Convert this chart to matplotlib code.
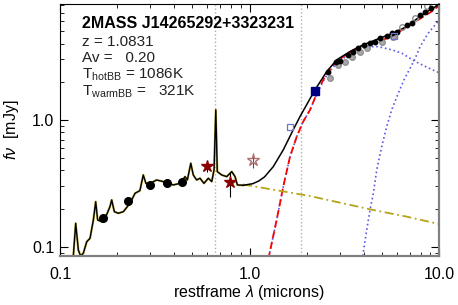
import matplotlib.pyplot as plt
import numpy as np
from matplotlib.ticker import NullFormatter

plt.rcParams['font.family'] = ['Liberation Sans', 'DejaVu Sans']
plt.rcParams['mathtext.fontset'] = 'custom'
plt.rcParams['mathtext.rm'] = 'Liberation Sans'
plt.rcParams['mathtext.it'] = 'Liberation Sans:italic'

# observed-frame template spectrum (UV/optical part)
spec_wave = [0.1175, 0.121, 0.125, 0.1285, 0.1327, 0.1384, 0.144, 0.150, 0.1543, 0.158,
             0.166, 0.176, 0.1835, 0.1874, 0.1935, 0.203, 0.216, 0.234, 0.249, 0.264,
             0.275, 0.284, 0.2985, 0.3236, 0.351, 0.396, 0.430, 0.457, 0.470, 0.490,
             0.505, 0.526, 0.548, 0.575, 0.6065, 0.632, 0.650, 0.664, 0.676, 0.713,
             0.758, 0.806, 0.839, 0.863, 0.927]
spec_flux = [0.0834, 0.153, 0.094, 0.0845, 0.0887, 0.1095, 0.1165, 0.1625, 0.2265, 0.1625,
             0.1575, 0.178, 0.207, 0.234, 0.189, 0.1835, 0.189, 0.220, 0.264, 0.2767,
             0.368, 0.316, 0.316, 0.336, 0.326, 0.307, 0.316, 0.357, 0.336, 0.455,
             0.368, 0.336, 0.3467, 0.316, 0.3467, 0.326, 0.403, 1.20, 0.391, 0.368,
             0.357, 0.391, 0.357, 0.307, 0.305]

# total model beyond the spectrum
model_wave = [0.927, 1.04, 1.12, 1.20, 1.335, 1.507, 1.70, 1.847, 2.216, 2.556, 2.884, 3.39,
              3.99, 4.885, 5.74, 6.755, 7.94, 8.965, 10.0]
model_flux = [0.305, 0.314, 0.330, 0.355, 0.428, 0.58, 0.834, 1.062, 1.725, 2.405, 2.976, 3.46,
              3.908, 4.415, 4.83, 5.45, 6.54, 7.38, 8.09]

# template extension (dash-dot)
ext_wave = [0.924, 0.994, 2.086, 3.003, 4.485, 6.776, 10.0]
ext_flux = [0.3097, 0.304, 0.251, 0.2225, 0.195, 0.1725, 0.151]

# hot + warm blackbody sum (red dashed)
bbsum_wave = [1.222, 1.267, 1.391, 1.507, 1.636, 1.775, 1.916, 2.086, 2.307, 2.502, 2.768,
              3.126, 3.68, 4.236, 4.784, 5.627, 6.616, 7.78, 9.15, 10.0]
bbsum_flux = [0.0655, 0.0845, 0.1625, 0.2976, 0.513, 0.738, 0.964, 1.199, 1.725, 2.197, 2.718,
              3.16, 3.68, 4.03, 4.15, 4.545, 5.295, 6.155, 7.16, 7.94]

# hot blackbody
hot_wave = [1.222, 1.267, 1.391, 1.507, 1.636, 1.775, 1.916, 2.086, 2.307, 2.502, 2.768,
            3.126, 3.68, 4.221, 4.765, 5.649, 6.378, 7.47, 8.44, 9.88]
hot_flux = [0.0655, 0.0845, 0.1625, 0.2976, 0.513, 0.738, 0.964, 1.199, 1.693, 2.145, 2.62,
            3.058, 3.568, 3.77, 3.783, 3.568, 3.35, 2.895, 2.645, 2.371]

# warm blackbody
warm_wave = [3.958, 4.155, 4.324, 4.503, 4.692, 4.985, 5.297, 5.627, 6.098, 6.536, 7.03,
             7.47, 7.94, 8.78, 9.72, 10.0]
warm_flux = [0.0845, 0.1355, 0.195, 0.264, 0.403, 0.616, 0.885, 1.199, 1.624, 2.069, 2.55,
             3.03, 3.77, 4.835, 5.80, 6.10]

# photometry
phot_wave = [0.1693, 0.2275, 0.2985, 0.3656, 0.4385]
phot_flux = [0.1694, 0.2296, 0.307, 0.316, 0.322]

star_wave = [0.598, 0.789]
star_flux = [0.436, 0.326]
star_lo = [0.39, 0.248]
star_hi = [0.469, 0.391]

ostar_wave = [1.047]
ostar_flux = [0.483]
ostar_lo = [0.418]
ostar_hi = [0.549]

osq_wave = [1.636, 5.81]
osq_flux = [0.88, 4.60]
fsq_wave = [2.216]
fsq_flux = [1.694]

# IRS spectrum points
irs_wave = [2.605, 2.85, 3.004, 3.322, 3.53, 3.752, 4.02, 4.324, 4.597, 4.885, 5.297,
            5.627, 5.98, 6.755, 7.18, 7.94, 8.44, 9.07]
irs_flux = [2.379, 2.854, 2.938, 3.26, 3.46, 3.68, 3.908, 4.074, 4.15, 4.414, 4.60,
            4.835, 4.977, 5.62, 5.80, 6.74, 7.03, 7.59]
gray_wave = [2.66, 2.942, 3.19, 3.462, 3.83, 4.155, 4.985, 5.74]
gray_flux = [2.134, 2.718, 2.886, 3.16, 3.40, 3.68, 4.127, 4.48]
ogray_wave = [6.356, 7.47, 8.61]
ogray_flux = [5.45, 6.35, 7.84]

lines = [0.6563, 1.875]

fig = plt.figure(figsize=(4.58, 3.05), dpi=100)
ax = fig.add_axes([60/458, 1-256/305, 379/458, 252/305])
ax.set_xscale('log')
ax.set_yscale('log')
ax.set_xlim(0.1, 10.0)
ax.set_ylim(0.0845, 8.2)

for l in lines:
    ax.axvline(l, color='#b0b0b0', ls=':', lw=1)

ax.plot(hot_wave, hot_flux, ls=':', color='#5a5ae6', lw=1.2)
ax.plot(warm_wave, warm_flux, ls=':', color='#5a5ae6', lw=1.2)
ax.plot(bbsum_wave, bbsum_flux, ls=(0, (4, 2)), color='red', lw=1.3)
ax.plot(ext_wave, ext_flux, ls=(0, (5, 2, 1, 2)), color='#b5a31a', lw=1.3)

ax.plot(spec_wave, spec_flux, color='#c8b850', lw=1.6)
ax.plot(spec_wave, spec_flux, color='black', lw=1.0)
ax.plot(model_wave, model_flux, color='black', lw=1.1)

ax.plot(gray_wave, gray_flux, 'o', color='#a8a8a8', ms=4, mec='#909090')
ax.plot(ogray_wave, ogray_flux, 'o', mfc='none', mec='#909090', ms=4)
ax.plot(irs_wave, irs_flux, 'o', color='black', ms=3.2)

ax.plot(phot_wave, phot_flux, 'o', color='black', ms=5.5)
ax.errorbar(star_wave, star_flux,
            yerr=[np.array(star_flux)-np.array(star_lo), np.array(star_hi)-np.array(star_flux)],
            fmt='*', color='#8b0000', ms=9, ecolor='black', elinewidth=0.8)
ax.errorbar(ostar_wave, ostar_flux,
            yerr=[np.array(ostar_flux)-np.array(ostar_lo), np.array(ostar_hi)-np.array(ostar_flux)],
            fmt='*', mfc='none', mec='#b07070', ms=9, ecolor='#505050', elinewidth=0.8)
ax.plot(osq_wave, osq_flux, 's', mfc='none', mec='#7070d0', ms=5, mew=0.9)
ax.plot(fsq_wave, fsq_flux, 's', color='#000080', ms=6)

ax.set_xticks([0.1, 1.0, 10.0], ['0.1', '1.0', '10.0'])
ax.set_yticks([0.1, 1.0], ['0.1', '1.0'])
ax.xaxis.set_minor_formatter(NullFormatter())
ax.yaxis.set_minor_formatter(NullFormatter())
ax.tick_params(which='both', direction='in', top=True, right=True, labelsize=11.5)
ax.tick_params(which='major', length=6)
ax.tick_params(which='minor', length=3)
ax.tick_params(axis='x', pad=8)
ax.tick_params(axis='y', pad=4)
for s in ['right', 'bottom']:
    ax.spines[s].set_color('#808080')
    ax.spines[s].set_linewidth(1.6)

ax.set_xlabel(r'restframe $\lambda$ (microns)', fontsize=11.5, labelpad=1)
ax.set_ylabel(r'$f\nu$  [mJy]', fontsize=11.5, labelpad=8)

fig.text(82/458, 1-24/305, '2MASS J14265292+3323231', fontsize=11.5,
         fontweight='bold', va='center')
info = ['z = 1.0831', 'Av =   0.20', r'T$_{\rm hotBB}$ = 1086K', r'T$_{\rm warmBB}$ =   321K']
for i, t in enumerate(info):
    fig.text(82/458, 1-(41.5+16.6*i)/305, t, fontsize=11, va='center', color='#222222')

fig.savefig('out.png', dpi=100)
